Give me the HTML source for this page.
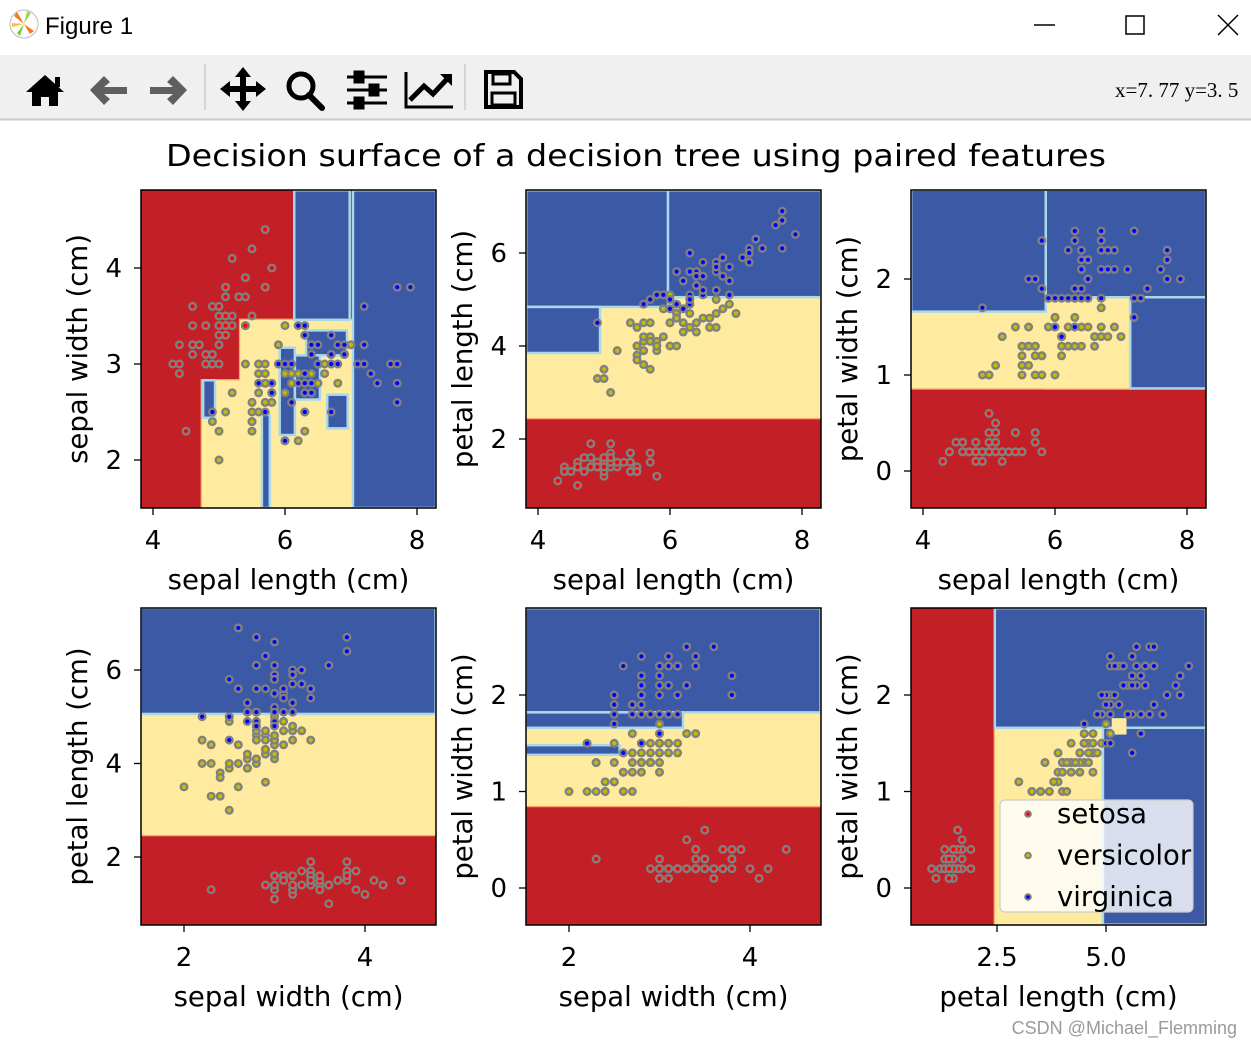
<!DOCTYPE html>
<html><head><meta charset="utf-8"><style>
html,body{margin:0;padding:0;background:#fff;width:1251px;height:1047px;overflow:hidden;font-family:"DejaVu Sans","Liberation Sans",sans-serif;}
svg{display:block}
</style></head><body>
<svg id="root" width="1251" height="1047" xmlns="http://www.w3.org/2000/svg">
<rect x="0" y="0" width="1251" height="54" fill="#ffffff"/>
<g>
<circle cx="24" cy="24" r="14" fill="#fff" stroke="#bbb" stroke-width="1"/>
<path d="M24 24 L14 16 L17 12 Z" fill="#f47a20"/><path d="M24 24 L30 34 L34 31 Z" fill="#f47a20"/><path d="M24 24 L27 11 L31 13 Z" fill="#a6d05a"/><path d="M24 24 L20 36 L17 33 Z" fill="#7ac943"/><path d="M24 24 L12 27 L12 23 Z" fill="#f9c23c"/>
</g>
<text x="45" y="34" font-size="24" font-family="Liberation Sans, sans-serif" fill="#000">Figure 1</text>
<line x1="1034" y1="25" x2="1055" y2="25" stroke="#000" stroke-width="1.5"/>
<rect x="1126" y="16" width="18" height="18" fill="none" stroke="#000" stroke-width="1.5"/>
<path d="M1218 15 L1238 35 M1238 15 L1218 35" stroke="#000" stroke-width="1.5"/>
<rect x="0" y="55" width="1251" height="64" fill="#f0f0f0"/>
<line x1="0" y1="119.5" x2="1251" y2="119.5" stroke="#c8c8c8" stroke-width="2"/>
<g><path d="M26 92 L45 75 L64 92 L58 92 L58 106 L49 106 L49 97 L41 97 L41 106 L32 106 L32 92 Z" fill="#000"/><rect x="55" y="77" width="5" height="10" fill="#000"/></g>
<path d="M90 90 L104 76 L110 82 L104 87 L127 87 L127 94 L104 94 L110 99 L104 105 Z" fill="#5f5f5f"/>
<path d="M187 90 L173 76 L167 82 L173 87 L150 87 L150 94 L173 94 L167 99 L173 105 Z" fill="#5f5f5f"/>
<line x1="205" y1="64" x2="205" y2="110" stroke="#ccc" stroke-width="1.5"/>
<g fill="#000"><path d="M243 67 L251 77 L235 77 Z M243 111 L251 101 L235 101 Z M220 89 L230 81 L230 97 Z M266 89 L256 81 L256 97 Z"/><rect x="240" y="74" width="6" height="30"/><rect x="228" y="86" width="30" height="6"/></g>
<g><circle cx="301" cy="86" r="12" fill="none" stroke="#000" stroke-width="5"/><path d="M309 95 L322 108" stroke="#000" stroke-width="6" stroke-linecap="round"/></g>
<g stroke="#000" stroke-width="3"><line x1="347" y1="77" x2="387" y2="77"/><line x1="347" y1="90" x2="387" y2="90"/><line x1="347" y1="103" x2="387" y2="103"/><rect x="355" y="72" width="8" height="10" fill="#000"/><rect x="370" y="85" width="8" height="10" fill="#000"/><rect x="355" y="98" width="8" height="10" fill="#000"/></g>
<g><path d="M406 72 L406 107 L453 107" fill="none" stroke="#000" stroke-width="3"/><path d="M410 100 L424 86 L433 94 L448 78" fill="none" stroke="#000" stroke-width="5"/><path d="M440 74 L452 74 L452 86 Z" fill="#000"/></g>
<line x1="465" y1="64" x2="465" y2="110" stroke="#ccc" stroke-width="1.5"/>
<g><path d="M486 72 L514 72 L521 79 L521 107 L486 107 Z" fill="none" stroke="#000" stroke-width="4"/><rect x="493" y="74" width="17" height="10" fill="none" stroke="#000" stroke-width="3"/><rect x="492" y="93" width="23" height="12" fill="none" stroke="#000" stroke-width="3"/></g>
<text x="1115" y="97" font-size="21" font-family="Liberation Serif, serif" fill="#000">x=7. 77  y=3. 5</text>
<text x="636" y="166" text-anchor="middle" font-size="30" textLength="940" lengthAdjust="spacingAndGlyphs" fill="#000">Decision surface of a decision tree using paired features</text>
<text x="1237" y="1034" text-anchor="end" font-size="18" font-family="Liberation Sans, sans-serif" fill="#9a9a9a">CSDN @Michael_Flemming</text>
<g id="plots"></g>
</svg>
<script>
// Iris dataset: sepal length, sepal width, petal length, petal width
const sepalLength=[5.1,4.9,4.7,4.6,5.0,5.4,4.6,5.0,4.4,4.9,5.4,4.8,4.8,4.3,5.8,5.7,5.4,5.1,5.7,5.1,5.4,5.1,4.6,5.1,4.8,5.0,5.0,5.2,5.2,4.7,4.8,5.4,5.2,5.5,4.9,5.0,5.5,4.9,4.4,5.1,5.0,4.5,4.4,5.0,5.1,4.8,5.1,4.6,5.3,5.0,
7.0,6.4,6.9,5.5,6.5,5.7,6.3,4.9,6.6,5.2,5.0,5.9,6.0,6.1,5.6,6.7,5.6,5.8,6.2,5.6,5.9,6.1,6.3,6.1,6.4,6.6,6.8,6.7,6.0,5.7,5.5,5.5,5.8,6.0,5.4,6.0,6.7,6.3,5.6,5.5,5.5,6.1,5.8,5.0,5.6,5.7,5.7,6.2,5.1,5.7,
6.3,5.8,7.1,6.3,6.5,7.6,4.9,7.3,6.7,7.2,6.5,6.4,6.8,5.7,5.8,6.4,6.5,7.7,7.7,6.0,6.9,5.6,7.7,6.3,6.7,7.2,6.2,6.1,6.4,7.2,7.4,7.9,6.4,6.3,6.1,7.7,6.3,6.4,6.0,6.9,6.7,6.9,5.8,6.8,6.7,6.7,6.3,6.5,6.2,5.9];
const sepalWidth=[3.5,3.0,3.2,3.1,3.6,3.9,3.4,3.4,2.9,3.1,3.7,3.4,3.0,3.0,4.0,4.4,3.9,3.5,3.8,3.8,3.4,3.7,3.6,3.3,3.4,3.0,3.4,3.5,3.4,3.2,3.1,3.4,4.1,4.2,3.1,3.2,3.5,3.6,3.0,3.4,3.5,2.3,3.2,3.5,3.8,3.0,3.8,3.2,3.7,3.3,
3.2,3.2,3.1,2.3,2.8,2.8,3.3,2.4,2.9,2.7,2.0,3.0,2.2,2.9,2.9,3.1,3.0,2.7,2.2,2.5,3.2,2.8,2.5,2.8,2.9,3.0,2.8,3.0,2.9,2.6,2.4,2.4,2.7,2.7,3.0,3.4,3.1,2.3,3.0,2.5,2.6,3.0,2.6,2.3,2.7,3.0,2.9,2.9,2.5,2.8,
3.3,2.7,3.0,2.9,3.0,3.0,2.5,2.9,2.5,3.6,3.2,2.7,3.0,2.5,2.8,3.2,3.0,3.8,2.6,2.2,3.2,2.8,2.8,2.7,3.3,3.2,2.8,3.0,2.8,3.0,2.8,3.8,2.8,2.8,2.6,3.0,3.4,3.1,3.0,3.1,3.1,3.1,2.7,3.2,3.3,3.0,2.5,3.0,3.4,3.0];
const petalLength=[1.4,1.4,1.3,1.5,1.4,1.7,1.4,1.5,1.4,1.5,1.5,1.6,1.4,1.1,1.2,1.5,1.3,1.4,1.7,1.5,1.7,1.5,1.0,1.7,1.9,1.6,1.6,1.5,1.4,1.6,1.6,1.5,1.5,1.4,1.5,1.2,1.3,1.4,1.3,1.5,1.3,1.3,1.3,1.6,1.9,1.4,1.6,1.4,1.5,1.4,
4.7,4.5,4.9,4.0,4.6,4.5,4.7,3.3,4.6,3.9,3.5,4.2,4.0,4.7,3.6,4.4,4.5,4.1,4.5,3.9,4.8,4.0,4.9,4.7,4.3,4.4,4.8,5.0,4.5,3.5,3.8,3.7,3.9,5.1,4.5,4.5,4.7,4.4,4.1,4.0,4.4,4.6,4.0,3.3,4.2,4.2,4.2,4.3,3.0,4.1,
6.0,5.1,5.9,5.6,5.8,6.6,4.5,6.3,5.8,6.1,5.1,5.3,5.5,5.0,5.1,5.3,5.5,6.7,6.9,5.0,5.7,4.9,6.7,4.9,5.7,6.0,4.8,4.9,5.6,5.8,6.1,6.4,5.6,5.1,5.6,6.1,5.6,5.5,4.8,5.4,5.6,5.1,5.1,5.9,5.7,5.2,5.0,5.2,5.4,5.1];
const petalWidth=[0.2,0.2,0.2,0.2,0.2,0.4,0.3,0.2,0.2,0.1,0.2,0.2,0.1,0.1,0.2,0.4,0.4,0.3,0.3,0.3,0.2,0.4,0.2,0.5,0.2,0.2,0.4,0.2,0.2,0.2,0.2,0.4,0.1,0.2,0.2,0.2,0.2,0.1,0.2,0.2,0.3,0.3,0.2,0.6,0.4,0.3,0.2,0.2,0.2,0.2,
1.4,1.5,1.5,1.3,1.5,1.3,1.6,1.0,1.3,1.4,1.0,1.5,1.0,1.4,1.3,1.4,1.5,1.0,1.5,1.1,1.8,1.3,1.5,1.2,1.3,1.4,1.4,1.7,1.5,1.0,1.1,1.0,1.2,1.6,1.5,1.6,1.5,1.3,1.3,1.3,1.2,1.4,1.2,1.0,1.3,1.2,1.3,1.3,1.1,1.3,
2.5,1.9,2.1,1.8,2.2,2.1,1.7,1.8,1.8,2.5,2.0,1.9,2.1,2.0,2.4,2.3,1.8,2.2,2.3,1.5,2.3,2.0,2.0,1.8,2.1,1.8,1.8,1.8,2.1,1.6,1.9,2.0,2.2,1.5,1.4,2.3,2.4,1.8,1.8,2.1,2.4,2.3,1.9,2.3,2.5,2.3,1.9,2.0,2.3,1.8];
const classNames=["setosa","versicolor","virginica"];
const classFill=["#ff0000","#bfbf00","#0000ff"];
// decision regions per panel: [class, x0, x1, y0, y1] in data units (red = class 0 background)
const surface1=[[1,4.74,7.03,1.5,2.83],[1,5.32,7.03,1.5,3.46],[2,6.14,6.98,3.46,4.81],[2,7.03,8.29,1.5,4.81],[2,4.76,4.94,2.44,2.83],[2,5.65,5.77,1.5,2.47],[2,5.92,6.15,2.26,3.17],[2,6.32,6.94,3.09,3.35],[2,6.15,6.53,2.63,3.09],[2,6.64,6.95,2.33,2.68]];
const surface2=[[1,3.82,8.29,2.45,5.05],[2,3.82,5.97,4.84,7.35],[2,5.97,8.29,5.05,7.35],[2,3.82,4.94,3.85,4.84]];
const surface3=[[1,3.82,7.14,0.86,1.66],[1,5.86,7.14,0.86,1.81],[2,3.82,5.86,1.66,2.93],[2,5.86,8.29,1.81,2.93],[2,7.14,8.29,0.86,1.81]];
const surface4=[[1,1.52,4.78,2.47,5.06],[2,1.52,4.78,5.06,7.33]];
const surface5=[[1,1.52,4.78,0.85,1.66],[1,3.26,4.78,0.85,1.82],[2,1.52,4.78,1.82,2.9],[2,1.52,3.26,1.66,1.82],[2,1.52,2.56,1.38,1.48]];
const surface6=[[1,2.45,4.93,-0.38,1.66],[2,2.45,7.29,1.66,2.9],[2,4.93,7.29,-0.38,1.66],[1,5.13,5.47,1.59,1.76]];
const ticks1x=[4,6,8], ticks1y=[2,3,4];
const ticks2y=[2,4,6], ticks3y=[0,1,2];
const ticks4x=[2,4], ticks5y=[0,1,2];
const ticks6x=[2.5,5.0], tickLabels6x=["2.5","5.0"];

const features=[sepalLength,sepalWidth,petalLength,petalWidth];
const featNames=["sepal length (cm)","sepal width (cm)","petal length (cm)","petal width (cm)"];
const panels=[
 {box:[141,190,436,508],fx:0,fy:1,xa:[4,153,8,417],ya:[4,268,2,460],xt:ticks1x,yt:ticks1y,surf:surface1},
 {box:[526,190,821,508],fx:0,fy:2,xa:[4,538,8,802],ya:[6,253,2,439],xt:ticks1x,yt:ticks2y,surf:surface2},
 {box:[911,190,1206,508],fx:0,fy:3,xa:[4,923,8,1187],ya:[2,279,0,471],xt:ticks1x,yt:ticks3y,surf:surface3},
 {box:[141,608,436,925],fx:1,fy:2,xa:[2,184,4,365],ya:[6,670,2,857],xt:ticks4x,yt:ticks2y,surf:surface4},
 {box:[526,608,821,925],fx:1,fy:3,xa:[2,569,4,750],ya:[2,695,0,888],xt:ticks4x,yt:ticks5y,surf:surface5},
 {box:[911,608,1206,925],fx:2,fy:3,xa:[2.5,997,5,1106],ya:[2,695,0,888],xt:ticks6x,xtl:tickLabels6x,yt:ticks5y,surf:surface6}
];
const NS="http://www.w3.org/2000/svg";
const root=document.getElementById('plots');
function mk(tag,attrs,parent){const e=document.createElementNS(NS,tag);for(const k in attrs)e.setAttribute(k,attrs[k]);(parent||root).appendChild(e);return e;}
const regionFill=["#c31f27","#feeba0","#3c59a6"];
const regionStroke=["none","#f9a363","#a9d8e8"];
panels.forEach((p,pi)=>{
 const [x0,y0,x1,y1]=p.box;
 const sx=v=>p.xa[1]+(v-p.xa[0])*(p.xa[3]-p.xa[1])/(p.xa[2]-p.xa[0]);
 const sy=v=>p.ya[1]+(v-p.ya[0])*(p.ya[3]-p.ya[1])/(p.ya[2]-p.ya[0]);
 const g=mk('g',{});
 
 
 const cp=mk('clipPath',{id:'cp'+pi},g);mk('rect',{x:x0,y:y0,width:x1-x0,height:y1-y0},cp);
 const pg=mk('g',{'clip-path':'url(#cp'+pi+')'},g);
 const bg=mk('rect',{x:x0,y:y0,width:x1-x0,height:y1-y0,fill:regionFill[0]},pg);
 
 
 const drawRegion=(r,stroked)=>{
  const rx=sx(r[1]),rx2=sx(r[2]),ry=sy(r[4]),ry2=sy(r[3]);
  const e=mk('rect',{x:rx,y:ry,width:rx2-rx,height:ry2-ry,fill:regionFill[r[0]],stroke:stroked?regionStroke[r[0]]:'none','stroke-width':2.5},pg);
  
  
 };
 // pass 1: leading yellow regions with outline, then fill-only to hide internal seams
 let k=0;
 while(k<p.surf.length&&p.surf[k][0]===1)k++;
 const lead=p.surf.slice(0,k);
 lead.forEach(r=>drawRegion(r,true));
 lead.forEach(r=>drawRegion(r,false));
 p.surf.slice(k).forEach(r=>drawRegion(r,r[0]===2));
 const fx=features[p.fx],fy=features[p.fy];
 for(let i=0;i<fx.length;i++){
  const c=Math.floor(i/50);
  const e=mk('circle',{cx:sx(fx[i]),cy:sy(fy[i]),r:3.3,fill:classFill[c],stroke:'#808080','stroke-width':2.4},pg);
  
  
 }
 const fr=mk('rect',{x:x0,y:y0,width:x1-x0,height:y1-y0,fill:'none',stroke:'#000','stroke-width':1.5},g);
 
 
 p.xt.forEach((t,ti)=>{
  const X=sx(t);
  mk('line',{x1:X,y1:y1,x2:X,y2:y1+7,stroke:'#000','stroke-width':1.3},g);
  const tx=mk('text',{x:X,y:y1+41,'text-anchor':'middle','font-size':26,fill:'#000'},g);
  tx.textContent=p.xtl?p.xtl[ti]:String(t);
  
  
 });
 p.yt.forEach(t=>{
  const Y=sy(t);
  mk('line',{x1:x0-7,y1:Y,x2:x0,y2:Y,stroke:'#000','stroke-width':1.3},g);
  const tx=mk('text',{x:x0-19,y:Y+9,'text-anchor':'end','font-size':26,fill:'#000'},g);
  tx.textContent=String(t);
  
  
 });
 const xl=mk('text',{x:(x0+x1)/2,y:y1+81,'text-anchor':'middle','font-size':27.5,fill:'#000'},g);
 xl.textContent=featNames[p.fx];
 
 
 const yc=(y0+y1)/2, xc=x0-54;
 const yl=mk('text',{x:xc,y:yc,'text-anchor':'middle','font-size':27.5,fill:'#000',transform:'rotate(-90 '+xc+' '+yc+')'},g);
 yl.textContent=featNames[p.fy];
 
 
});
// legend
const lg=mk('g',{});


mk('rect',{x:1000,y:800,width:193,height:112,rx:5,fill:'#ffffff','fill-opacity':0.8,stroke:'#cccccc','stroke-width':1.2},lg);
classNames.forEach((n,i)=>{
 const y=814+i*41.5;
 const m=mk('circle',{cx:1028,cy:y,r:2.8,fill:classFill[i],stroke:'#808080','stroke-width':2},lg);
 
 
 const t=mk('text',{x:1057,y:y+9,'font-size':27.5,fill:'#000'},lg);
 t.textContent=n;
 
 
});
</script>
</body></html>
